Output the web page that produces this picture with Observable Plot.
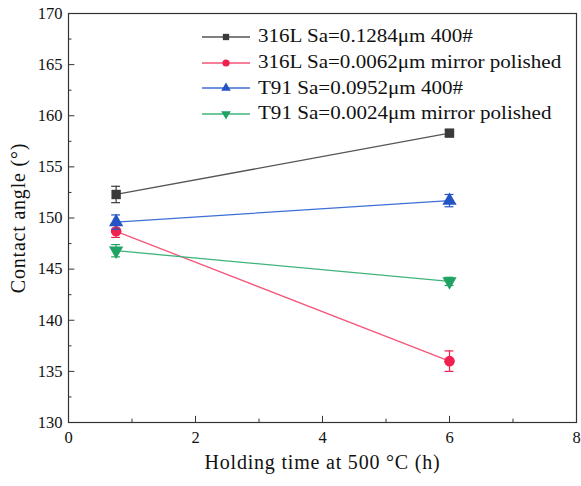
<!DOCTYPE html>
<html>
<head>
<meta charset="utf-8">
<script src="https://cdn.jsdelivr.net/npm/d3@7"></script>
<script src="https://cdn.jsdelivr.net/npm/@observablehq/plot@0.6"></script>
<style>
  body { margin: 0; background: #fff; }
  #wrap { position: relative; width: 581px; height: 486px; }
  #legend { position: absolute; left: 200px; top: 24px; font-family: "Liberation Serif", "Times New Roman", serif; font-size: 18px; color: #111; }
  .row { display: flex; align-items: center; height: 25.7px; white-space: nowrap; }
  .row svg { margin-right: 6px; }
  .row span { display: inline-block; transform: scaleX(1.17); transform-origin: left center; }
</style>
</head>
<body>
<div id="wrap"><div id="legend"></div></div>
<script>
// ---- data ----
const seriesNames = [
  "316L Sa=0.1284\u03bcm 400#",
  "316L Sa=0.0062\u03bcm mirror polished",
  "T91 Sa=0.0952\u03bcm 400#",
  "T91 Sa=0.0024\u03bcm mirror polished"
];
const times = [0.75, 6];
const s316L400 = [152.3, 158.3];
const s316LMirror = [148.7, 136.0];
const sT91400 = [149.6, 151.7];
const sT91Mirror = [146.8, 143.8];
const err316L400 = [0.8, 0.3];
const err316LMirror = [0.6, 1.0];
const errT91400 = [0.7, 0.6];
const errT91Mirror = [0.6, 0.4];
const xTicks = [0, 2, 4, 6, 8];
const xMinor = [1, 3, 5, 7];
const yTicks = [130, 135, 140, 145, 150, 155, 160, 165, 170];
const yMinor = [132.5, 137.5, 142.5, 147.5, 152.5, 157.5, 162.5, 167.5];
const xTitle = "Holding time at 500 \u00b0C (h)";
const yTitle = "Contact angle (\u00b0)";

const colors = ["#3a3a3a", "#f0204f", "#2353c4", "#20a263"];
const lineColors = ["#555555", "#f4557a", "#3d6fd6", "#3fb47a"];
const symbols = ["square", "circle", "triangle", "triangle"];
const rotations = [0, 0, 0, 180];
const allVals = [s316L400, s316LMirror, sT91400, sT91Mirror];
const allErr = [err316L400, err316LMirror, errT91400, errT91Mirror];

const rows = [];
allVals.forEach((vals, si) => {
  vals.forEach((v, i) => rows.push({s: si, x: times[i], y: v, e: allErr[si][i]}));
});

const capHalf = 0.07;
const marks = [
  Plot.frame({stroke: "#333", strokeWidth: 1.2}),
  // inward ticks
  Plot.ruleY(yTicks, {x1: 0, x2: 0.1, stroke: "#333"}),
  Plot.ruleY(yMinor, {x1: 0, x2: 0.055, stroke: "#333"}),
  Plot.ruleX(xTicks, {y1: 130, y2: 130.6, stroke: "#333"}),
  Plot.ruleX(xMinor, {y1: 130, y2: 130.33, stroke: "#333"}),
  Plot.axisY({ticks: yTicks, tickSize: 0, tickPadding: 6, label: null, fontSize: 16.5}),
  Plot.axisX({ticks: xTicks, tickSize: 0, tickPadding: 9, label: null, fontSize: 16.5}),
  Plot.text([xTitle], {frameAnchor: "bottom", textAnchor: "middle", dy: 46, fontSize: 20, fill: "#111"}),
  Plot.text([yTitle], {frameAnchor: "left", textAnchor: "middle", dx: -50, rotate: -90, fontSize: 20, fill: "#111"})
];
allVals.forEach((vals, si) => {
  const d = rows.filter(r => r.s === si);
  marks.push(Plot.line(d, {x: "x", y: "y", stroke: lineColors[si], strokeWidth: 1.3}));
  marks.push(Plot.ruleX(d, {x: "x", y1: r => r.y - r.e, y2: r => r.y + r.e, stroke: colors[si], strokeWidth: 1.2}));
  marks.push(Plot.ruleY(d, {y: r => r.y - r.e, x1: r => r.x - capHalf, x2: r => r.x + capHalf, stroke: colors[si], strokeWidth: 1.2}));
  marks.push(Plot.ruleY(d, {y: r => r.y + r.e, x1: r => r.x - capHalf, x2: r => r.x + capHalf, stroke: colors[si], strokeWidth: 1.2}));
  marks.push(Plot.dot(d, {x: "x", y: "y", symbol: () => symbols[si], rotate: rotations[si], r: 5.3, fill: colors[si], stroke: "none"}));
});

const chart = Plot.plot({
  width: 581,
  height: 486,
  marginLeft: 68,
  marginRight: 5,
  marginTop: 13,
  marginBottom: 64,
  x: {domain: [0, 8]},
  y: {domain: [130, 170]},
  symbol: {type: "identity"},
  style: {fontFamily: "'Liberation Serif', 'Times New Roman', serif", color: "#111", background: "#fff", overflow: "visible"},
  marks
});
document.getElementById("wrap").prepend(chart);
d3.select(chart).selectAll("text").filter(function() {
  return this.textContent === xTitle || this.textContent === yTitle;
}).style("letter-spacing", "0.8px");

// legend
const leg = document.getElementById("legend");
seriesNames.forEach((name, si) => {
  const row = document.createElement("div");
  row.className = "row";
  const sym = d3.symbol().type([d3.symbolSquare, d3.symbolCircle, d3.symbolTriangle, d3.symbolTriangle][si]).size(40)();
  row.innerHTML = `<svg width="52" height="14"><line x1="2" x2="50" y1="7" y2="7" stroke="${lineColors[si]}" stroke-width="1.3"/><path d="${sym}" transform="translate(26,7) rotate(${rotations[si]})" fill="${colors[si]}"/></svg><span>${name}</span>`;
  leg.appendChild(row);
});
</script>
</body>
</html>
